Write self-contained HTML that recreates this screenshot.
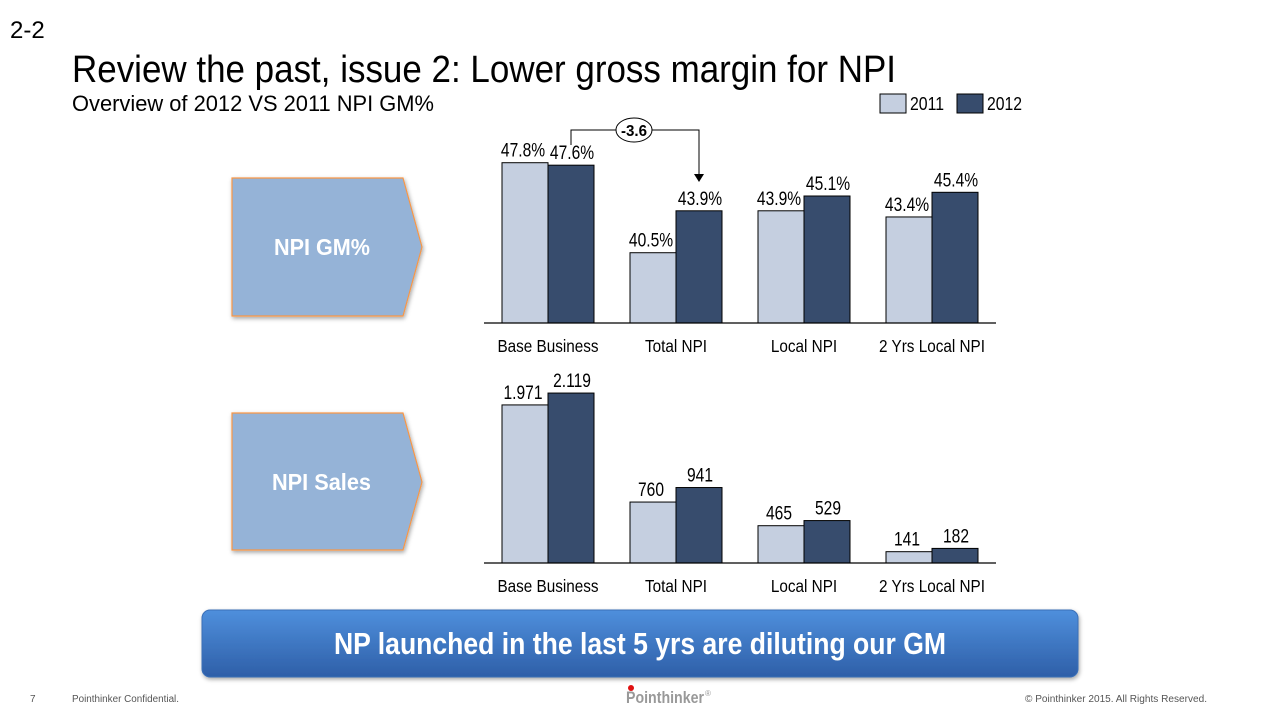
<!DOCTYPE html>
<html><head><meta charset="utf-8"><style>
body{margin:0;background:#fff;}
svg{display:block;font-family:"Liberation Sans",sans-serif;}
</style></head><body>
<svg id="s" width="1280" height="720" viewBox="0 0 1280 720" xmlns="http://www.w3.org/2000/svg">
<defs>
<linearGradient id="bn" x1="0" y1="0" x2="0" y2="1"><stop offset="0" stop-color="#4f8fdc"/><stop offset="1" stop-color="#2e5fa8"/></linearGradient>
<filter id="sh" x="-5%" y="-5%" width="110%" height="120%"><feDropShadow dx="1" dy="2" stdDeviation="2" flood-opacity="0.35"/></filter>
</defs>
<text x="10" y="38" font-size="24" fill="#000">2-2</text>
<text x="72" y="82" font-size="38" textLength="824" lengthAdjust="spacingAndGlyphs" fill="#000">Review the past, issue 2: Lower gross margin for NPI</text>
<text x="72" y="111" font-size="22" textLength="362" lengthAdjust="spacingAndGlyphs" fill="#000">Overview of 2012 VS 2011 NPI GM%</text>

<g>
<rect x="880" y="94" width="26" height="19" fill="#c5cfe0" stroke="#000" stroke-width="1"/>
<text x="910" y="110" font-size="18" textLength="34" lengthAdjust="spacingAndGlyphs">2011</text>
<rect x="957" y="94" width="26" height="19" fill="#374c6d" stroke="#000" stroke-width="1"/>
<text x="987" y="110" font-size="18" textLength="35" lengthAdjust="spacingAndGlyphs">2012</text>
</g>

<g filter="url(#sh)">
<polygon points="232,178 403,178 422,247 403,316 232,316" fill="#95b3d7" stroke="#f79646" stroke-width="1.2"/>
<text x="274" y="255" font-weight="bold" font-size="23" fill="#fff" textLength="96" lengthAdjust="spacingAndGlyphs">NPI GM%</text>
</g>
<g filter="url(#sh)">
<polygon points="232,413 403,413 422,482 403,550 232,550" fill="#95b3d7" stroke="#f79646" stroke-width="1.2"/>
<text x="272" y="490" font-weight="bold" font-size="23" fill="#fff" textLength="99" lengthAdjust="spacingAndGlyphs">NPI Sales</text>
</g>

<g id="charts"></g>

<g>
<polyline points="571,145 571,130 616,130" fill="none" stroke="#000" stroke-width="1"/>
<polyline points="652,130 699,130 699,176" fill="none" stroke="#000" stroke-width="1"/>
<polygon points="694,174 704,174 699,182" fill="#000"/>
<ellipse cx="634" cy="130" rx="18" ry="12" fill="#fff" stroke="#000" stroke-width="1"/>
<text x="621" y="136" font-weight="bold" font-size="16" textLength="26" lengthAdjust="spacingAndGlyphs">-3.6</text>
</g>

<g filter="url(#sh)">
<rect x="202" y="610" width="876" height="67" rx="8" fill="url(#bn)" stroke="#3a6fb8"/>
<text x="334" y="654" font-weight="bold" font-size="31" fill="#fff" textLength="612" lengthAdjust="spacingAndGlyphs">NP launched in the last 5 yrs  are diluting our GM</text>
</g>

<text x="30" y="702" font-size="10" fill="#555">7</text>
<text x="72" y="702" font-size="10" fill="#555" textLength="107" lengthAdjust="spacingAndGlyphs">Pointhinker Confidential.</text>
<g>
<text x="626" y="703" font-weight="bold" font-size="17" fill="#999" textLength="78" lengthAdjust="spacingAndGlyphs">Pointhinker</text>
<text x="705" y="696" font-size="8" fill="#999">®</text>
<circle cx="631" cy="688" r="3" fill="#e01010"/>
</g>
<text x="1025" y="702" font-size="10" fill="#555" textLength="182" lengthAdjust="spacingAndGlyphs">© Pointhinker   2015. All Rights Reserved.</text>
</svg>
<script>
const categories = ["Base Business","Total NPI","Local NPI","2 Yrs Local NPI"];
const gm2011 = [47.8, 40.5, 43.9, 43.4];
const gm2012 = [47.6, 43.9, 45.1, 45.4];
const gmLabels2011 = ["47.8%","40.5%","43.9%","43.4%"];
const gmLabels2012 = ["47.6%","43.9%","45.1%","45.4%"];
const sales2011 = [1971, 760, 465, 141];
const sales2012 = [2119, 941, 529, 182];
const salesLabels2011 = ["1.971","760","465","141"];
const salesLabels2012 = ["2.119","941","529","182"];

const NS = "http://www.w3.org/2000/svg";
const root = document.getElementById('charts');
function mk(tag, attrs, parent){const e=document.createElementNS(NS,tag);for(const k in attrs)e.setAttribute(k,attrs[k]);parent.appendChild(e);return e;}
function narrow(parent, x, y, size, sx, str){
  const g = mk('g',{transform:'translate('+x+','+y+') scale('+sx+',1)'},parent);
  const t = mk('text',{x:0,y:0,'text-anchor':'middle','font-size':size},g);
  t.textContent = str;
  return t;
}

function drawChart(name, baseY, yMin, pxPerUnit, v1, v2, l1, l2){
  const g = mk('g',{},root);
  
  
  const y = v => baseY - (v - yMin) * pxPerUnit;
  const xGroup = i => 502 + i * 128;
  categories.forEach((c,i)=>{
    const x = xGroup(i);
    const b1 = mk('rect',{x:x,y:y(v1[i]),width:46,height:baseY-y(v1[i]),fill:'#c5cfe0',stroke:'#000','stroke-width':1},g);
    
    
    const b2 = mk('rect',{x:x+46,y:y(v2[i]),width:46,height:baseY-y(v2[i]),fill:'#374c6d',stroke:'#000','stroke-width':1},g);
    
    
    const t1 = narrow(g, x+21, y(v1[i])-6, 19, 0.82, l1[i]);
    
    
    const t2 = narrow(g, x+70, y(v2[i])-6, 19, 0.82, l2[i]);
    
    
    const ct = narrow(g, x+46, baseY+29, 18, 0.85, c);
    
    
  });
  const ax = mk('line',{x1:484,x2:996,y1:baseY,y2:baseY,stroke:'#000','stroke-width':1.3},g);
  
  
}
drawChart('gm-chart', 323, 34.8, 12.33, gm2011, gm2012, gmLabels2011, gmLabels2012);
drawChart('sales-chart', 563, 0, 0.0802, sales2011, sales2012, salesLabels2011, salesLabels2012);
</script>
</body></html>
